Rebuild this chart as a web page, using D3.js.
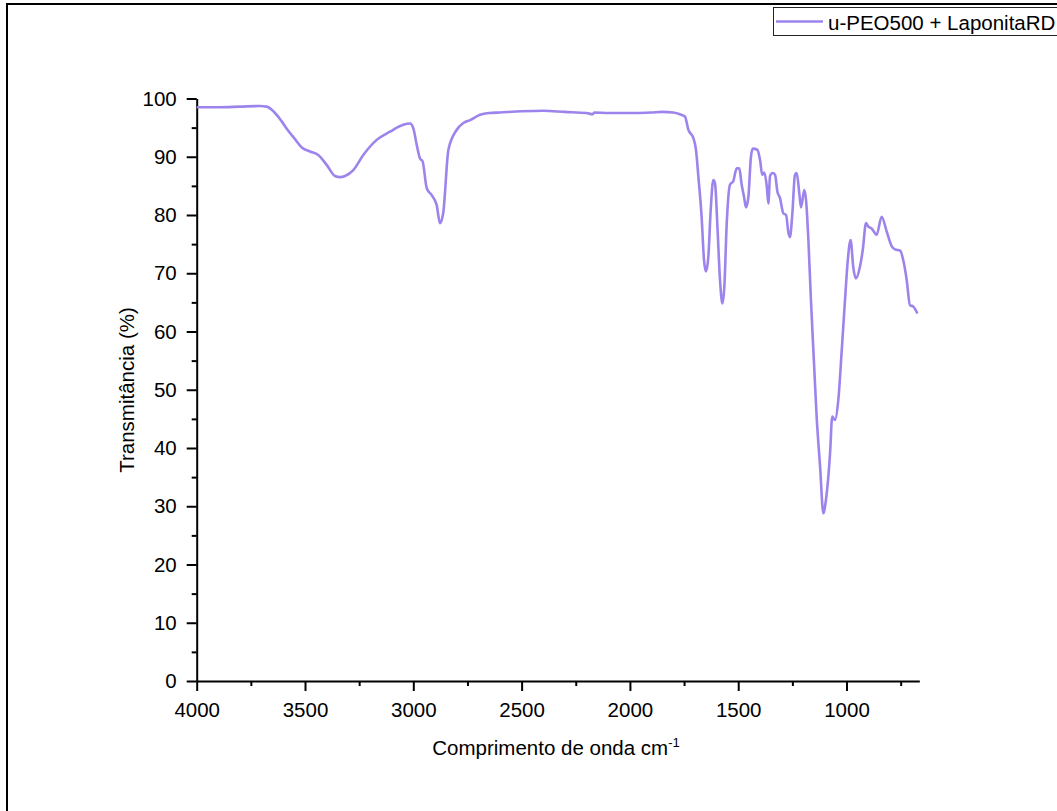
<!DOCTYPE html>
<html>
<head>
<meta charset="utf-8">
<script src="https://cdn.jsdelivr.net/npm/d3@7"></script>
<style>
  body { margin: 0; background: #fff; }
  svg { display: block; font-family: "Liberation Sans", Arial, sans-serif; }
</style>
</head>
<body>
<div id="chart"></div>
<script>
// FTIR spectrum, values
const wavenumber = [4000, 3900, 3800, 3708, 3677, 3646, 3610, 3580, 3550, 3515, 3477, 3439, 3400, 3362, 3338, 3315, 3277, 3231, 3169, 3108, 3046, 3015, 3000, 2984, 2969, 2957, 2938, 2915, 2892, 2877, 2862, 2838, 2800, 2769, 2738, 2692, 2650, 2600, 2500, 2400, 2300, 2200, 2172, 2165, 2100, 2000, 1900, 1850, 1800, 1769, 1746, 1730, 1707, 1695, 1684, 1669, 1658, 1649, 1638, 1627, 1615, 1607, 1596, 1584, 1573, 1564, 1553, 1538, 1523, 1507, 1495, 1484, 1473, 1464, 1453, 1442, 1433, 1412, 1399, 1389, 1380, 1368, 1361, 1353, 1341, 1330, 1319, 1307, 1292, 1279, 1268, 1261, 1250, 1238, 1230, 1218, 1210, 1195, 1187, 1176, 1165, 1150, 1138, 1122, 1107, 1095, 1076, 1066, 1053, 1038, 1022, 1007, 994, 981, 969, 957, 938, 925, 910, 899, 884, 861, 838, 814, 791, 776, 753, 735, 722, 707, 692, 673]
const transmittance = [98.5, 98.5, 98.6, 98.7, 98.6, 97.8, 96.2, 94.6, 93.2, 91.6, 90.9, 90.3, 88.6, 86.7, 86.5, 86.7, 87.7, 90.3, 92.9, 94.3, 95.5, 95.7, 94.9, 92.0, 89.7, 89.2, 84.6, 83.4, 81.7, 78.6, 80.3, 91.2, 94.6, 95.8, 96.3, 97.2, 97.5, 97.6, 97.8, 97.9, 97.7, 97.5, 97.3, 97.6, 97.5, 97.5, 97.6, 97.7, 97.6, 97.3, 96.9, 94.6, 93.2, 91.2, 86.6, 79.7, 72.3, 70.3, 72.8, 80.9, 86.0, 85.4, 78.0, 68.8, 64.8, 67.7, 78.6, 85.2, 85.8, 88.0, 88.0, 85.2, 83.1, 81.3, 83.1, 89.7, 91.4, 91.2, 89.4, 86.9, 87.3, 84.9, 82.0, 86.7, 87.2, 86.9, 84.0, 82.9, 80.3, 80.0, 76.9, 76.2, 80.3, 86.9, 87.2, 83.7, 81.3, 84.3, 82.6, 75.7, 66.0, 54.5, 45.4, 36.8, 28.8, 31.1, 39.1, 45.4, 44.8, 48.2, 56.8, 65.4, 72.3, 75.7, 71.1, 69.1, 71.1, 74.0, 78.6, 78.0, 77.7, 76.6, 79.7, 77.1, 74.6, 74.1, 73.9, 71.7, 68.8, 64.5, 64.3, 63.1]

const xTicks = [4000, 3500, 3000, 2500, 2000, 1500, 1000]
const xMinor = [3750, 3250, 2750, 2250, 1750, 1250, 750]
const yTicks = [0, 10, 20, 30, 40, 50, 60, 70, 80, 90, 100]
const yMinor = [5, 15, 25, 35, 45, 55, 65, 75, 85, 95]

const seriesName = "u-PEO500 + LaponitaRD"
const lineColor = "#9d84ec"

const W = 1057, H = 811
const margin = { top: 98.5, left: 196.7, right: 137.7, bottom: 130 }
const width = W - margin.left - margin.right,
    height = 681 - margin.top

const data = wavenumber.map((w, i) => ({ w: w, t: transmittance[i] }))

const svg = d3.select("#chart")
    .append("svg")
    .attr("width", W)
    .attr("height", H)

// outer frame
svg.append("rect")
    .attr("x", 7).attr("y", 4)
    .attr("width", W + 20).attr("height", H + 20)
    .attr("fill", "none")
    .attr("stroke", "#000")
    .attr("stroke-width", 2)

const g = svg.append("g")
    .attr("transform", `translate(${margin.left},${margin.top})`)

let x = d3.scaleLinear()
    .domain([4000, 664])
    .range([0, width])

let y = d3.scaleLinear()
    .domain([0, 100])
    .range([height, 0])

// minor ticks first
g.append("g")
    .attr("transform", `translate(0,${height})`)
    .call(d3.axisBottom(x).tickValues(xMinor).tickSize(5).tickFormat(""))
    .call(a => a.select(".domain").remove())
    .selectAll("line").attr("stroke-width", 2)

g.append("g")
    .call(d3.axisLeft(y).tickValues(yMinor).tickSize(5).tickFormat(""))
    .call(a => a.select(".domain").remove())
    .selectAll("line").attr("stroke-width", 2)

let xAxis = g.append("g")
    .attr("transform", `translate(0,${height})`)
    .call(d3.axisBottom(x).tickValues(xTicks).tickFormat(d3.format("d")).tickSizeInner(10).tickSizeOuter(0))

xAxis.select(".domain").attr("stroke-width", 2)
xAxis.selectAll("line").attr("stroke-width", 2)
xAxis.selectAll("text")
    .attr("font-size", "20.5px")
    .attr("font-family", "Liberation Sans, Arial, sans-serif")
    .attr("fill", "#000")
    .attr("y", 36)
    .attr("dy", 0)

let yAxis = g.append("g")
    .call(d3.axisLeft(y).tickValues(yTicks).tickSizeInner(10).tickSizeOuter(0).tickPadding(10))

yAxis.select(".domain").attr("stroke-width", 2)
yAxis.selectAll("line").attr("stroke-width", 2)
yAxis.selectAll("text")
    .attr("font-size", "20.5px")
    .attr("font-family", "Liberation Sans, Arial, sans-serif")
    .attr("fill", "#000")

// spectrum
g.append("path")
    .datum(data)
    .attr("fill", "none")
    .attr("stroke", lineColor)
    .attr("stroke-width", 2.6)
    .attr("stroke-linejoin", "round")
    .attr("d", d3.line()
        .curve(d3.curveMonotoneX)
        .x(function (d) { return x(d.w) })
        .y(function (d) { return y(d.t) })
    )

// axis titles
let xTitle = svg.append("text")
    .attr("x", 556)
    .attr("y", 755)
    .attr("text-anchor", "middle")
    .attr("font-size", "20.5px")
    .attr("fill", "#000")
xTitle.append("tspan").text("Comprimento de onda cm")
xTitle.append("tspan").attr("font-size", "13px").attr("dy", -8).text("-1")

svg.append("text")
    .attr("transform", "translate(134,390) rotate(-90)")
    .attr("text-anchor", "middle")
    .attr("font-size", "20.5px")
    .attr("fill", "#000")
    .text("Transmitância (%)")

// legend
svg.append("rect")
    .attr("x", 773.5).attr("y", 7.5)
    .attr("width", 300).attr("height", 28)
    .attr("fill", "#fff")
    .attr("stroke", "#222")
    .attr("stroke-width", 1)
svg.append("line")
    .attr("x1", 776).attr("x2", 823)
    .attr("y1", 21.5).attr("y2", 21.5)
    .attr("stroke", lineColor)
    .attr("stroke-width", 2.5)
svg.append("text")
    .attr("x", 828).attr("y", 29.5)
    .attr("font-size", "20.5px")
    .attr("fill", "#000")
    .text(seriesName)
</script>
</body>
</html>
